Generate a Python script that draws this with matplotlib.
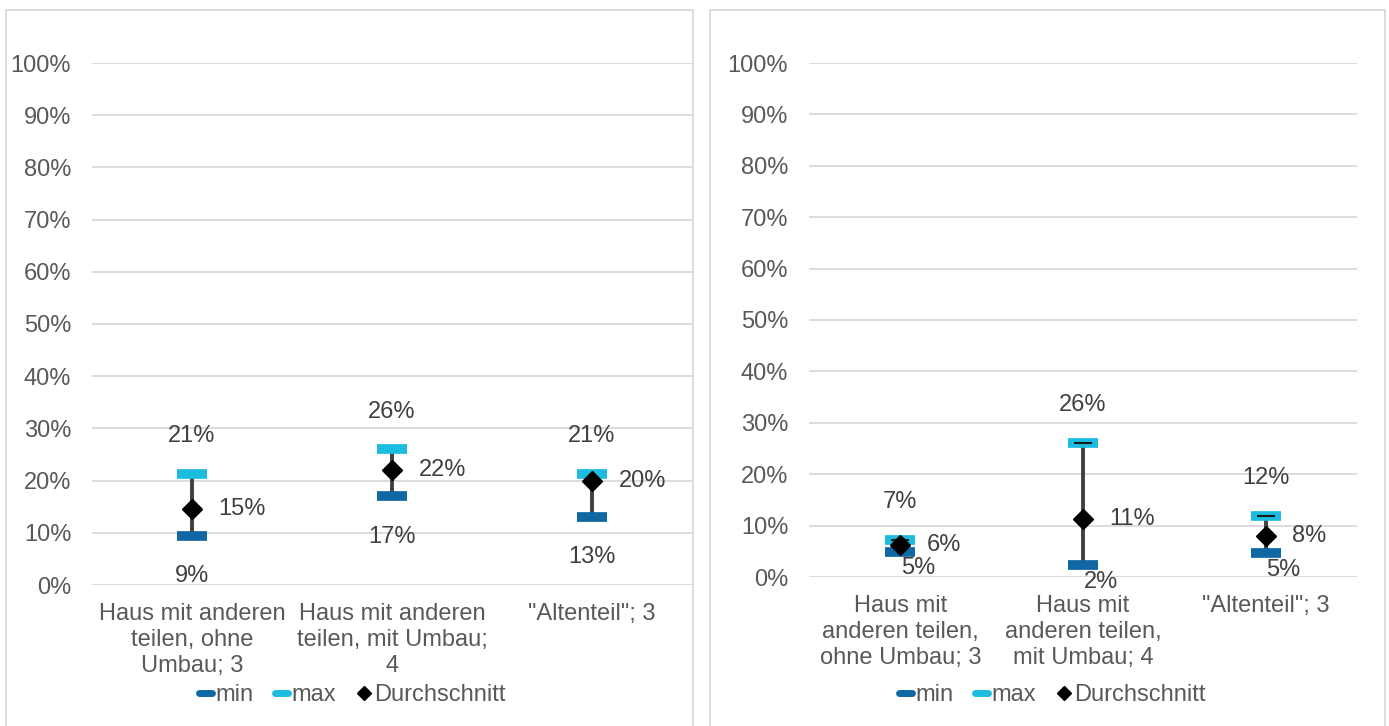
import matplotlib
matplotlib.use("Agg")
import matplotlib.pyplot as plt
from matplotlib.lines import Line2D
from matplotlib.patches import Rectangle

plt.rcParams['font.family'] = ['Liberation Sans', 'DejaVu Sans']

# ---- data ----
left_categories = ["Haus mit anderen\nteilen, ohne\nUmbau; 3",
                   "Haus mit anderen\nteilen, mit Umbau;\n4",
                   "\"Altenteil\"; 3"]
left_min = [0.094, 0.170, 0.130]
left_max = [0.213, 0.260, 0.213]
left_avg = [0.146, 0.220, 0.199]

right_categories = ["Haus mit\nanderen teilen,\nohne Umbau; 3",
                    "Haus mit\nanderen teilen,\nmit Umbau; 4",
                    "\"Altenteil\"; 3"]
right_min = [0.049, 0.023, 0.047]
right_max = [0.072, 0.261, 0.119]
right_avg = [0.062, 0.113, 0.080]

legend_labels = ["min", "max", "Durchschnitt"]
yticks = [0, 0.1, 0.2, 0.3, 0.4, 0.5, 0.6, 0.7, 0.8, 0.9, 1.0]

# ---- style ----
C_MIN = "#0F67A3"
C_MAX = "#1CBCE0"
C_BAR = "#404040"
C_GRID = "#D9D9D9"
C_TICK = "#595959"
C_LAB = "#404040"
FS = 17

W, H = 1389, 726
fig = plt.figure(figsize=(W / 100, H / 100), dpi=100)


def fx(px):
    return px / W


def fy(py):
    return 1 - py / H


# panel borders
fig.patches.append(Rectangle((fx(6), fy(740)), fx(693) - fx(6), fy(10) - fy(740),
                             transform=fig.transFigure, fill=False, ec=C_GRID, lw=1.3))
fig.patches.append(Rectangle((fx(710), fy(740)), fx(1385) - fx(710), fy(10) - fy(740),
                             transform=fig.transFigure, fill=False, ec=C_GRID, lw=1.3))


def draw_panel(rect, cats, mins, maxs, avgs, min_off, avg_off, capline, legend_x, xpad):
    ax = fig.add_axes(rect)
    x = list(range(len(cats)))
    ax.set_xlim(-0.5, len(cats) - 0.5)
    ax.set_ylim(0, 1)
    ax.set_yticks(yticks)
    ax.set_yticklabels([f"{int(round(v * 100))}%" for v in yticks])
    ax.yaxis.grid(True, color=C_GRID, lw=1.3)
    ax.set_axisbelow(True)
    for s in ax.spines.values():
        s.set_visible(False)
    ax.tick_params(axis='both', length=0, labelsize=FS, colors=C_TICK)
    ax.tick_params(axis='y', pad=15)
    ax.tick_params(axis='x', pad=xpad)
    ax.set_xticks(x)
    ax.set_xticklabels(cats, linespacing=1.22)

    ax.vlines(x, mins, maxs, color=C_BAR, lw=2.8, zorder=2)
    ax.plot(x, mins, ls='none', marker='_', ms=21, mew=7, color=C_MIN, zorder=3)
    ax.plot(x, maxs, ls='none', marker='_', ms=21, mew=7, color=C_MAX, zorder=3)
    if capline:
        ax.plot(x, maxs, ls='none', marker='_', ms=13, mew=1.5, color='#1a1a1a', zorder=4)
    ax.plot(x, avgs, ls='none', marker='D', ms=10.5, color='black', zorder=5)

    for i in x:
        ax.annotate(f"{round(maxs[i] * 100):.0f}%", (i, maxs[i]), xytext=(0, 27),
                    textcoords='offset points', ha='center', va='center',
                    fontsize=FS, color=C_LAB)
        ax.annotate(f"{round(mins[i] * 100):.0f}%", (i, mins[i]), xytext=min_off,
                    textcoords='offset points', ha='center', va='center',
                    fontsize=FS, color=C_LAB)
        ax.annotate(f"{round(avgs[i] * 100):.0f}%", (i, avgs[i]), xytext=avg_off,
                    textcoords='offset points', ha='left', va='center',
                    fontsize=FS, color=C_LAB)

    handles = [Line2D([], [], color=C_MIN, lw=5, solid_capstyle='round'),
               Line2D([], [], color=C_MAX, lw=5, solid_capstyle='round'),
               Line2D([], [], ls='none', marker='D', ms=7, color='black')]
    fig.legend(handles, legend_labels, loc='center', bbox_to_anchor=(fx(legend_x), fy(695)),
               ncol=3, frameon=False, fontsize=FS, labelcolor=C_TICK,
               handlelength=0.55, handletextpad=0.15, columnspacing=0.9,
               borderpad=0, borderaxespad=0)
    return ax


draw_panel([fx(92), fy(585), fx(692) - fx(92), fy(63) - fy(585)],
           left_categories, left_min, left_max, left_avg,
           min_off=(0, -29), avg_off=(19, 0), capline=False, legend_x=352, xpad=13)
draw_panel([fx(809), fy(577), fx(1357) - fx(809), fy(63) - fy(577)],
           right_categories, right_min, right_max, right_avg,
           min_off=(13, -12), avg_off=(19, 0), capline=True, legend_x=1052, xpad=13)

fig.savefig("out.png", dpi=100)
